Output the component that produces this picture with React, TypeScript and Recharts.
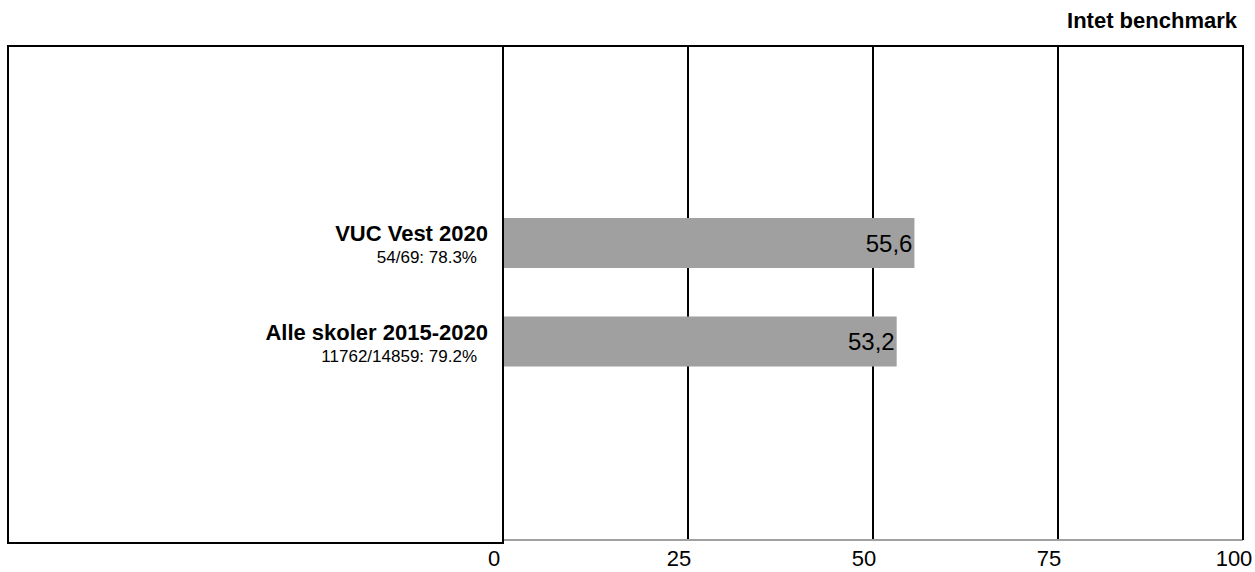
import React from "react";
import { BarChart, Bar, XAxis, YAxis, CartesianGrid, LabelList } from "recharts";

const categories = ["VUC Vest 2020", "Alle skoler 2015-2020"];
const subtitles = ["54/69: 78.3%", "11762/14859: 79.2%"];
const values = [55.6, 53.2];
const xTicks = [0, 25, 50, 75, 100];
const benchmarkText = "Intet benchmark";

const data = categories.map((name, i) => ({ name, sub: subtitles[i], value: values[i] }));

const W = 1255;
const H = 572;
const M = { top: 46, right: 12, bottom: 0, left: 0 };
const Y_W = 503;
const X_H = 32;
const FONT = "'Liberation Sans', Arial, sans-serif";
const GRAY = "#a0a0a0";
const PLOT_LEFT = M.left + Y_W;
const PLOT_RIGHT = W - M.right;
const PLOT_TOP = M.top;
const PLOT_BOTTOM = H - M.bottom - X_H;

const XTick = (props: any) => {
  const { x, payload } = props;
  return (
    <text x={x - 9} y={PLOT_BOTTOM + 26} textAnchor="middle" fontSize={22} fontFamily={FONT} fill="#000">
      {payload.value}
    </text>
  );
};

const YTick = (props: any) => {
  const { y, payload, index } = props;
  const sub = subtitles[index] ?? "";
  return (
    <g>
      <text x={PLOT_LEFT - 15} y={y - 2} textAnchor="end" fontSize={22} fontWeight="bold" fontFamily={FONT} fill="#000">
        {payload.value}
      </text>
      <text x={PLOT_LEFT - 26} y={y + 20} textAnchor="end" fontSize={17} fontFamily={FONT} fill="#000">
        {sub}
      </text>
    </g>
  );
};

export default function App() {
  return (
    <div style={{ position: "absolute", left: 0, top: 0, width: W, height: H, overflow: "hidden", background: "#fff" }}>
      <BarChart width={W} height={H} data={data} layout="vertical" margin={M} barCategoryGap={0}>
        <CartesianGrid vertical={true} horizontal={false} stroke="#000" strokeWidth={2} />
        <XAxis
          type="number"
          domain={[0, 100]}
          ticks={xTicks}
          interval={0}
          axisLine={{ stroke: GRAY, strokeWidth: 2 }}
          tickLine={false}
          tick={<XTick />}
          height={X_H}
        />
        <YAxis
          type="category"
          dataKey="name"
          width={Y_W}
          axisLine={false}
          tickLine={false}
          tick={<YTick />}
          padding={{ top: 148, bottom: 149 }}
          interval={0}
        />
        <Bar dataKey="value" fill={GRAY} barSize={50} isAnimationActive={false}>
          <LabelList
            dataKey="value"
            position="insideRight"
            offset={2}
            fontSize={24}
            fontFamily={FONT}
            fill="#000"
            formatter={(v: any) => String(v).replace(".", ",")}
          />
        </Bar>
      </BarChart>
      <svg width={W} height={H} style={{ position: "absolute", left: 0, top: 0, pointerEvents: "none" }}>
        <text x={1237} y={28} textAnchor="end" fontSize={22} fontWeight="bold" fontFamily={FONT} fill="#000">
          {benchmarkText}
        </text>
        <line x1={8} y1={PLOT_TOP} x2={PLOT_RIGHT + 1} y2={PLOT_TOP} stroke="#000" strokeWidth={2} />
        <line x1={8} y1={PLOT_TOP - 1} x2={8} y2={PLOT_BOTTOM + 3} stroke="#000" strokeWidth={2} />
        <line x1={7} y1={PLOT_BOTTOM + 3} x2={PLOT_LEFT + 1} y2={PLOT_BOTTOM + 3} stroke="#000" strokeWidth={2} />
        <line x1={PLOT_LEFT} y1={PLOT_TOP} x2={PLOT_LEFT} y2={PLOT_BOTTOM + 4} stroke="#000" strokeWidth={2} />
        <line x1={PLOT_RIGHT} y1={PLOT_TOP - 1} x2={PLOT_RIGHT} y2={PLOT_BOTTOM} stroke="#000" strokeWidth={2} />
      </svg>
    </div>
  );
}
